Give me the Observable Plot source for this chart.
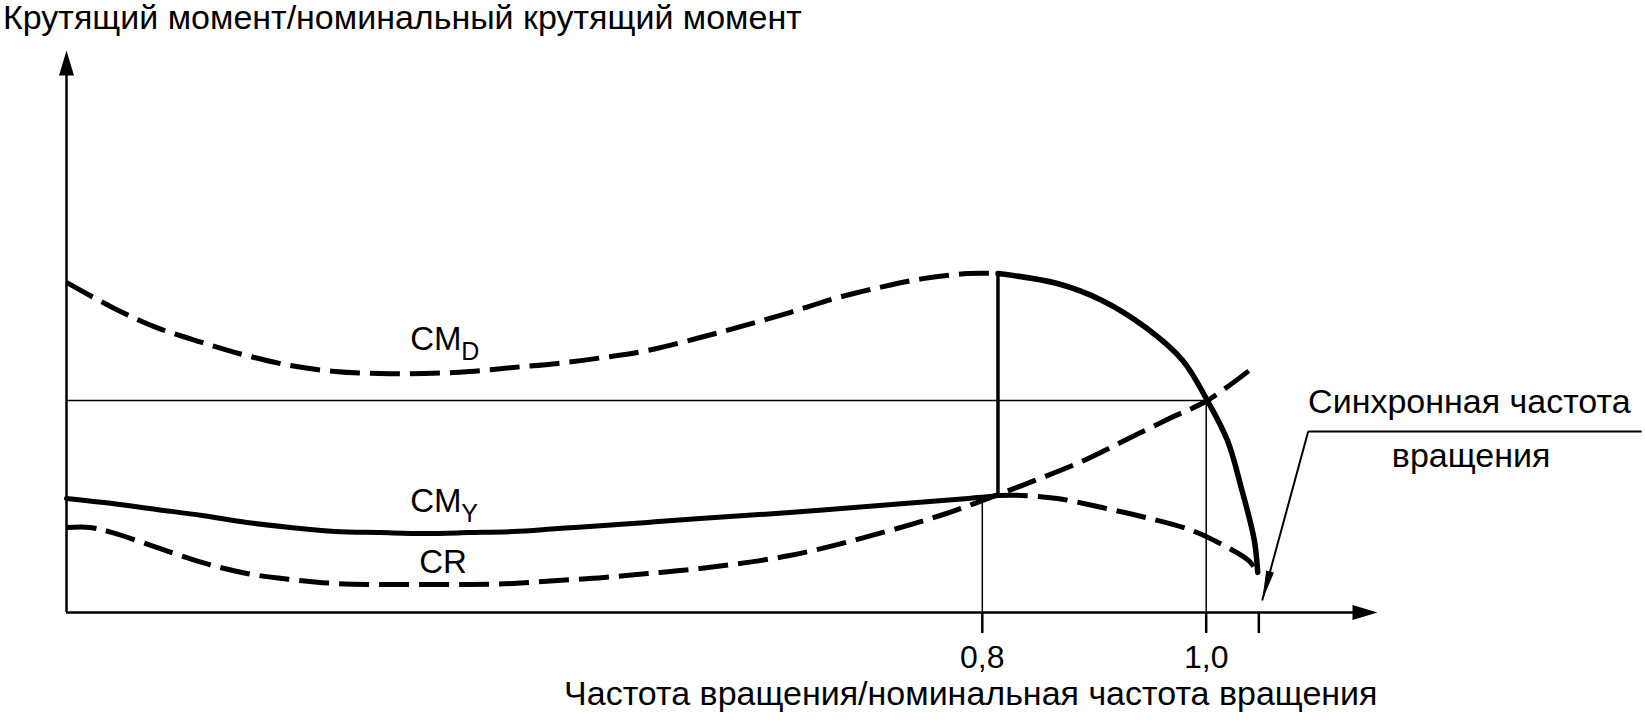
<!DOCTYPE html>
<html><head><meta charset="utf-8">
<script src="https://cdn.jsdelivr.net/npm/d3@7"></script>
<script src="https://cdn.jsdelivr.net/npm/@observablehq/plot@0.6"></script>
<style>
body{margin:0;background:#fff;font-family:'Liberation Sans',Arial,sans-serif;}
#title{font-size:34px;line-height:34px;height:34px;padding-left:3px;color:#000;white-space:nowrap;}
</style></head><body>
<div id="title"></div>
<div id="chart"></div>
<script>
// ---- texts ----
const yTitle = "Крутящий момент/номинальный крутящий момент";
const xTitle = "Частота вращения/номинальная частота вращения";
const xTicks = [0.8, 1.0, 1.047];
const xTickLabels = ["0,8", "1,0", ""];
const xDomain = [-0.018, 1.153];
const yDomain = [0, 2.651];

// ---- curves [speed ratio, torque ratio] ----
const cmdDashed = [[-0.018,1.557],[0.023,1.439],[0.0625,1.344],[0.103,1.274],[0.143,1.212],[0.182,1.165],[0.222,1.137],[0.262,1.127],[0.302,1.127],[0.342,1.137],[0.381,1.156],[0.421,1.175],[0.462,1.203],[0.501,1.236],[0.548,1.297],[0.588,1.354],[0.628,1.415],[0.668,1.481],[0.708,1.533],[0.747,1.575],[0.7875,1.599],[0.814,1.599]];
const cmdSolid = [[0.814,1.599],[0.867,1.552],[0.907,1.472],[0.946,1.344],[0.979,1.189],[1.001,1.0],[1.019,0.811],[1.032,0.575],[1.043,0.340],[1.046,0.189]];
const cmySolid = [[-0.018,0.538],[0.023,0.514],[0.0625,0.486],[0.103,0.458],[0.143,0.425],[0.182,0.401],[0.222,0.382],[0.262,0.377],[0.302,0.373],[0.342,0.377],[0.381,0.382],[0.421,0.396],[0.462,0.410],[0.501,0.425],[0.548,0.443],[0.628,0.472],[0.708,0.505],[0.7875,0.538],[0.814,0.552]];
const cmyDashed = [[0.814,0.552],[0.835,0.552],[0.867,0.538],[0.907,0.495],[0.946,0.448],[0.987,0.387],[1.019,0.307],[1.038,0.245],[1.046,0.189]];
const crDashed = [[-0.018,0.401],[0.003,0.401],[0.023,0.377],[0.0625,0.307],[0.103,0.236],[0.143,0.184],[0.182,0.156],[0.222,0.137],[0.262,0.132],[0.302,0.132],[0.342,0.132],[0.381,0.137],[0.421,0.151],[0.462,0.165],[0.501,0.184],[0.548,0.208],[0.628,0.269],[0.708,0.373],[0.768,0.467],[0.807,0.542],[0.847,0.623],[0.887,0.708],[0.927,0.811],[0.967,0.915],[1.001,1.0],[1.042,1.156]];

// ---- reference lines ----
const nominalTorque = 1.0;
const ratedSpeed = 1.0;
const lowSpeed = 0.8;
const lowSpeedTop = 0.53;
const pullOutSpeed = 0.814;
const pullOutRange = [0.552, 1.599];

// ---- labels ----
const curveLabels = [
  {main: "CM", sub: "D", x: 0.289, y: 1.236},
  {main: "CM", sub: "Y", x: 0.289, y: 0.476},
  {main: "CR", sub: "", x: 0.297, y: 0.184}
];
const syncLine1 = {text: "Синхронная частота", x: 1.091, y: 0.939};
const syncLine2 = {text: "вращения", x: 1.2366, y: 0.684};
const syncUnderline = {x1: 1.0911, x2: 1.389, y: 0.854};
const syncArrowTip = {x: 1.05, y: 0.0566};

document.getElementById("title").textContent = yTitle;

const W = 1645, H = 686, mL = 66, mR = 268, mT = 16, mB = 108;
const kx = (W - mL - mR) / (xDomain[1] - xDomain[0]);
const ky = (H - mT - mB) / (yDomain[1] - yDomain[0]);
const angle = (a, b) => {
  const sx = (b.x - a.x) * kx, sy = -(b.y - a.y) * ky;
  return Math.atan2(sx, -sy) * 180 / Math.PI;
};
const triangle = {draw(ctx, l, r) { ctx.moveTo(0, -l); ctx.lineTo(r, 0); ctx.lineTo(-r, 0); ctx.closePath(); }};

const xs = d => d[0], ys = d => d[1];
const dashed = {x: xs, y: ys, curve: "catmull-rom", stroke: "black", strokeWidth: 5, strokeDasharray: "30,10", strokeLinecap: "butt"};

const syncStart = {x: syncUnderline.x1, y: syncUnderline.y};
const yArrow = [{x: xDomain[0], y: yDomain[1], rot: 0}];
const xArrow = [{x: xDomain[1], y: 0, rot: 90}];
const noteArrow = [{x: syncArrowTip.x, y: syncArrowTip.y, rot: angle(syncStart, syncArrowTip)}];
const head = {x: "x", y: "y", rotate: "rot", anchor: "end", shape: triangle, fill: "black", stroke: "none"};

const chart = Plot.plot({
  width: W, height: H,
  marginLeft: mL, marginRight: mR, marginTop: mT, marginBottom: mB,
  x: {domain: xDomain},
  y: {domain: yDomain, axis: null},
  style: {fontFamily: "'Liberation Sans', Arial, sans-serif", background: "white", color: "black"},
  marks: [
    // axes
    Plot.ruleY([0], {x1: xDomain[0], x2: xDomain[1] - 20 / kx, stroke: "black", strokeWidth: 2.5}),
    Plot.ruleX([xDomain[0]], {y1: 0, y2: yDomain[1] - 20 / ky, stroke: "black", strokeWidth: 2.5}),
    Plot.axisX(xTicks, {tickSize: 21, tickPadding: 12, fontSize: 32, strokeWidth: 2.5, tickFormat: (d, i) => xTickLabels[i], label: null}),
    Plot.text([xTitle], {frameAnchor: "bottom-right", textAnchor: "end", lineAnchor: "top", dy: 68, fontSize: 34, fill: "black"}),
    // reference lines
    Plot.ruleY([nominalTorque], {x1: xDomain[0], x2: ratedSpeed, stroke: "black", strokeWidth: 1.5}),
    Plot.ruleX([ratedSpeed], {y1: 0, y2: nominalTorque, stroke: "black", strokeWidth: 1.5}),
    Plot.ruleX([lowSpeed], {y1: 0, y2: lowSpeedTop, stroke: "black", strokeWidth: 1.5}),
    Plot.ruleX([pullOutSpeed], {y1: pullOutRange[0], y2: pullOutRange[1], stroke: "black", strokeWidth: 3.5}),
    // curves
    Plot.line(cmdDashed, dashed),
    Plot.line(cmdSolid, {x: xs, y: ys, curve: "catmull-rom", stroke: "black", strokeWidth: 5.5}),
    Plot.line(cmySolid, {x: xs, y: ys, curve: "catmull-rom", stroke: "black", strokeWidth: 5}),
    Plot.line(cmyDashed, dashed),
    Plot.line(crDashed, dashed),
    // curve labels
    Plot.text(curveLabels, {x: "x", y: "y", text: "main", textAnchor: "start", lineAnchor: "bottom", fontSize: 33, fill: "black"}),
    Plot.text(curveLabels, {x: "x", y: "y", text: "sub", textAnchor: "start", lineAnchor: "bottom", fontSize: 25, dx: 51, dy: 10, fill: "black"}),
    // synchronous speed annotation
    Plot.text([syncLine1], {x: "x", y: "y", text: "text", textAnchor: "start", lineAnchor: "bottom", fontSize: 34, fill: "black"}),
    Plot.text([syncLine2], {x: "x", y: "y", text: "text", textAnchor: "middle", lineAnchor: "bottom", fontSize: 34, fill: "black"}),
    Plot.link([syncUnderline], {x1: "x1", x2: "x2", y1: "y", y2: "y", stroke: "black", strokeWidth: 2}),
    Plot.link([syncStart], {x1: "x", y1: "y", x2: () => syncArrowTip.x, y2: () => syncArrowTip.y, stroke: "black", strokeWidth: 2}),
    // arrowheads
    Plot.vector(yArrow, {...head, length: 25, r: 7.5}),
    Plot.vector(xArrow, {...head, length: 25, r: 7.5}),
    Plot.vector(noteArrow, {...head, length: 30, r: 4})
  ]
});
document.getElementById("chart").appendChild(chart);
</script>
</body></html>
